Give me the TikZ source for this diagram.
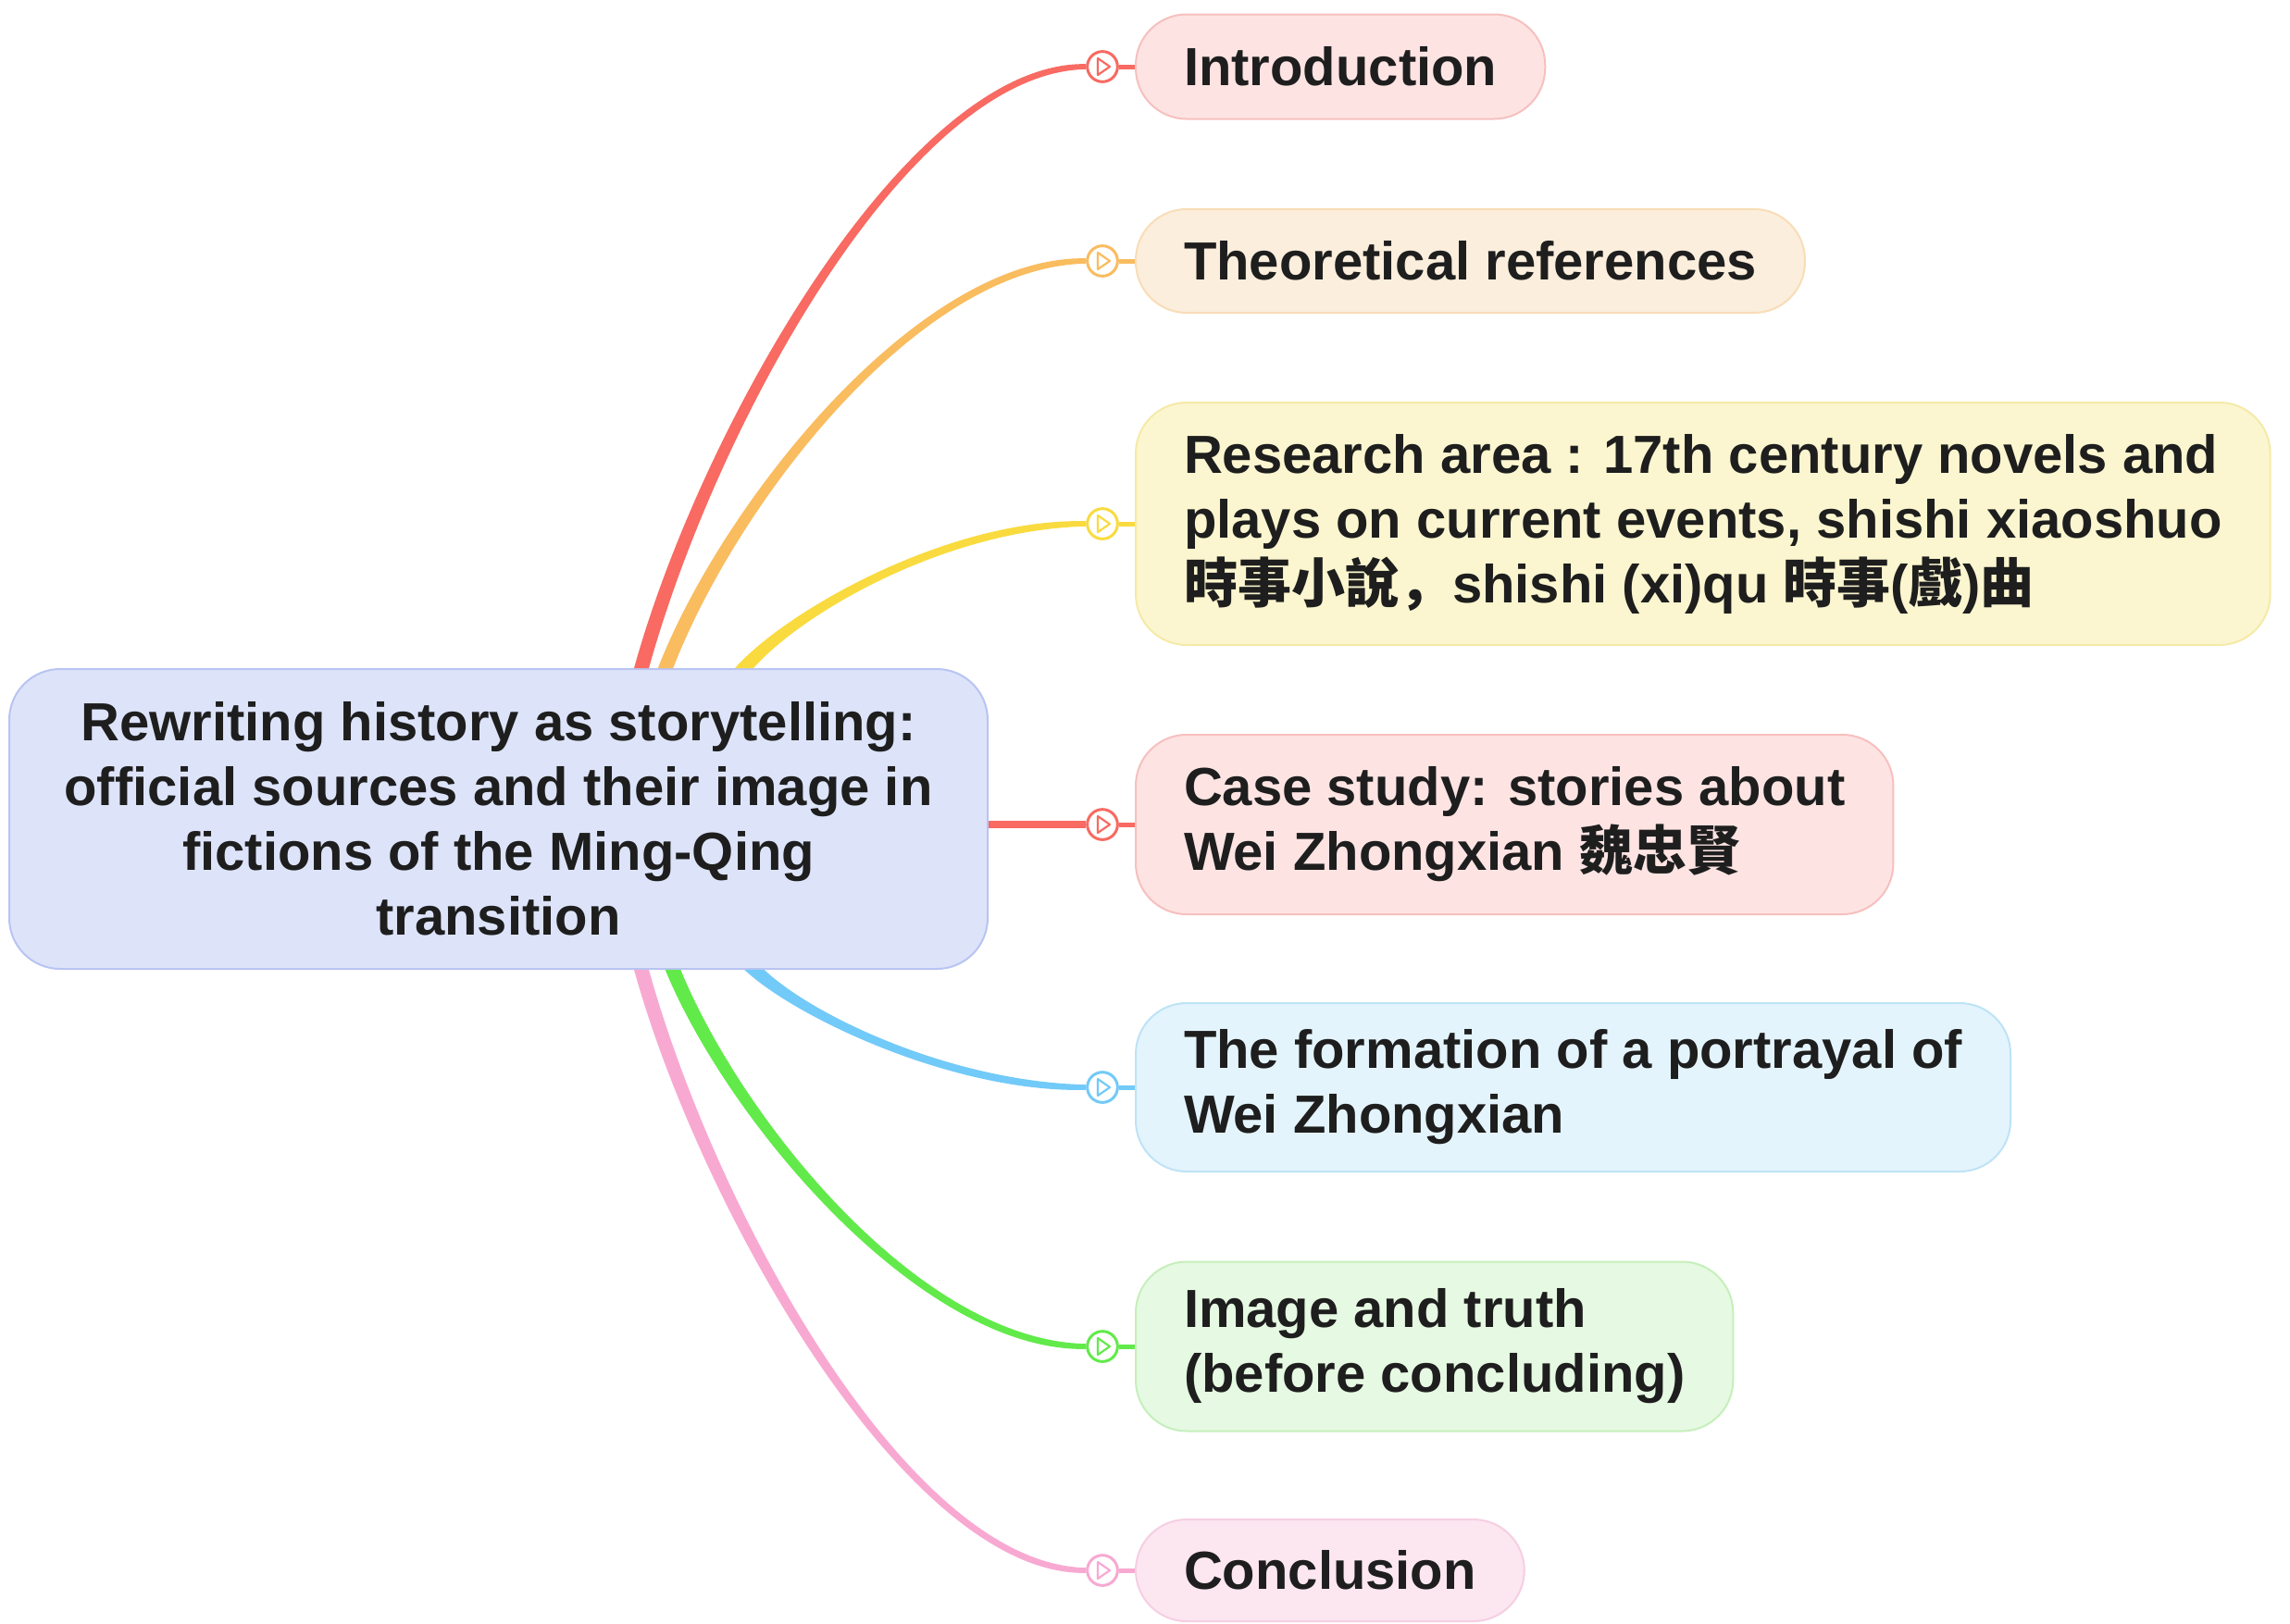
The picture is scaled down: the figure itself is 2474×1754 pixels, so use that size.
\documentclass[tikz,border=0pt]{standalone}
\usepackage{fontspec}
\setmainfont{Liberation Sans}
\newfontfamily\cjk{Noto Sans CJK TC}
\newfontfamily\cjkp{Noto Sans CJK SC}
\usetikzlibrary{calc}
\definecolor{txt}{HTML}{1E1E1E}
\definecolor{cred}{HTML}{F86A62}
\definecolor{cora}{HTML}{F9BC5F}
\definecolor{cyel}{HTML}{F9DB3F}
\definecolor{cblu}{HTML}{72CAF8}
\definecolor{cgrn}{HTML}{62EA4A}
\definecolor{cpnk}{HTML}{F8A9D2}
\definecolor{fred}{HTML}{FDE4E3}\definecolor{bred}{HTML}{F6C0BE}
\definecolor{fora}{HTML}{FCEEDC}\definecolor{bora}{HTML}{F8DDB8}
\definecolor{fyel}{HTML}{FBF6CF}\definecolor{byel}{HTML}{F5EAA8}
\definecolor{fblu}{HTML}{E4F4FC}\definecolor{bblu}{HTML}{BEE3F6}
\definecolor{fgrn}{HTML}{E6F9E2}\definecolor{bgrn}{HTML}{C6EFBC}
\definecolor{fpnk}{HTML}{FCE6F0}\definecolor{bpnk}{HTML}{F5CFE2}
\definecolor{froot}{HTML}{DDE4FA}\definecolor{broot}{HTML}{B8C4F2}
% #1 start, #2 marker, #3 colour, #4 half width at start (horizontal),
% #5 half width at end (signed), #6 half width at second control (signed)
\newcommand\branch[6]{%
  \fill[#3] let \p0=(#1), \p3=(#2.west) in
    (\x0-#4,\y0)
    .. controls (\x0-#4+0.15*\x3-0.15*\x0, \y0+0.4*\y3-0.4*\y0)
    and (\x0+0.6*\x3-0.6*\x0, \y3+#6)
    .. (\x3,\y3+#5)
    -- (\x3,\y3-#5)
    .. controls (\x0+0.6*\x3-0.6*\x0, \y3-#6)
    and (\x0+#4+0.15*\x3-0.15*\x0, \y0+0.4*\y3-0.4*\y0)
    .. (\x0+#4,\y0) -- cycle;}
\begin{document}
\begin{tikzpicture}[x=0.3pt,y=-0.3pt,
  txtfont/.style={font=\fontsize{17.4pt}{21pt}\selectfont\bfseries, text=txt},
  root/.style={txtfont, rounded corners=16.5pt, fill=froot, draw=broot, line width=0.6pt,
    align=center, minimum width=317.1pt, minimum height=97.2pt, inner sep=0pt},
  topic/.style 2 args={txtfont, rounded corners=16.5pt, fill=#1, draw=#2, line width=0.6pt,
    align=left, anchor=west, inner xsep=15.6pt, inner ysep=0pt},
  marker/.style={circle, draw=#1, fill=white, line width=0.9pt, minimum size=9.8pt, inner sep=0pt,
    path picture={\draw[#1, line width=0.65pt, line join=round]
      ([xshift=-1.5pt,yshift=2.7pt]path picture bounding box.center) -- ++(0pt,-5.4pt) -- ++(3.9pt,2.7pt) -- cycle;}},
  stub/.style={line width=1.5pt}
]
\useasboundingbox (0,0) rectangle (2474,1754);
\fill[white] (0,0) rectangle (2474,1754);

\node[root] (c) at (538.5,885) {Rewriting history as storytelling:\\official sources and their image in\\fictions of the Ming-Qing\\transition};

\node[topic={fred}{bred}, minimum height=33.9pt] (t1) at (1226,72) {Introduction};
\node[topic={fora}{bora}, minimum height=33.6pt] (t2) at (1226,282) {Theoretical references};
\node[topic={fyel}{byel}, minimum height=78.6pt] (t3) at (1226,566) {Research area : 17th century novels and\\plays on current events, shishi xiaoshuo\\{\cjk 時事小說}{\cjkp ，}shishi (xi)qu {\cjk 時事}({\cjk 戲}){\cjk 曲}};
\node[topic={fred}{bred}, minimum height=58.2pt] (t4) at (1226,891) {Case study: stories about\\Wei Zhongxian {\cjk 魏忠賢}};
\node[topic={fblu}{bblu}, minimum height=54.6pt] (t5) at (1226,1175) {The formation of a portrayal of\\Wei Zhongxian};
\node[topic={fgrn}{bgrn}, minimum height=54.9pt] (t6) at (1226,1455) {Image and truth\\(before concluding)};
\node[topic={fpnk}{bpnk}, minimum height=33pt] (t7) at (1226,1697) {Conclusion};

\node[marker=cred] (m1) at (1191,72) {};
\node[marker=cora] (m2) at (1191,282) {};
\node[marker=cyel] (m3) at (1191,566) {};
\node[marker=cred] (m4) at (1191,891) {};
\node[marker=cblu] (m5) at (1191,1175) {};
\node[marker=cgrn] (m6) at (1191,1455) {};
\node[marker=cpnk] (m7) at (1191,1697) {};

\coordinate (s1) at ($(c.north west)+(684,0)$);
\coordinate (s2) at ($(c.north west)+(710,0)$);
\coordinate (s3) at ($(c.north west)+(795,0)$);
\coordinate (s5) at ($(c.south west)+(806,0)$);
\coordinate (s6) at ($(c.south west)+(718,0)$);
\coordinate (s7) at ($(c.south west)+(684,0)$);

\branch{s1}{m1}{cred}{2.4pt}{0.85pt}{1.8pt}
\branch{s2}{m2}{cora}{2.45pt}{0.85pt}{1.8pt}
\branch{s3}{m3}{cyel}{3.0pt}{0.85pt}{1.8pt}
\branch{s5}{m5}{cblu}{3.2pt}{-0.85pt}{-1.8pt}
\branch{s6}{m6}{cgrn}{2.5pt}{-0.85pt}{-1.8pt}
\branch{s7}{m7}{cpnk}{2.4pt}{-0.85pt}{-1.8pt}
\draw[cred, line width=2.4pt] (m4 -| c.east) -- (m4.west);

\draw[stub, cred] (m1.east) -- (t1.west);
\draw[stub, cora] (m2.east) -- (t2.west);
\draw[stub, cyel] (m3.east) -- (t3.west);
\draw[stub, cred] (m4.east) -- (t4.west);
\draw[stub, cblu] (m5.east) -- (t5.west);
\draw[stub, cgrn] (m6.east) -- (t6.west);
\draw[stub, cpnk] (m7.east) -- (t7.west);
\end{tikzpicture}
\end{document}
